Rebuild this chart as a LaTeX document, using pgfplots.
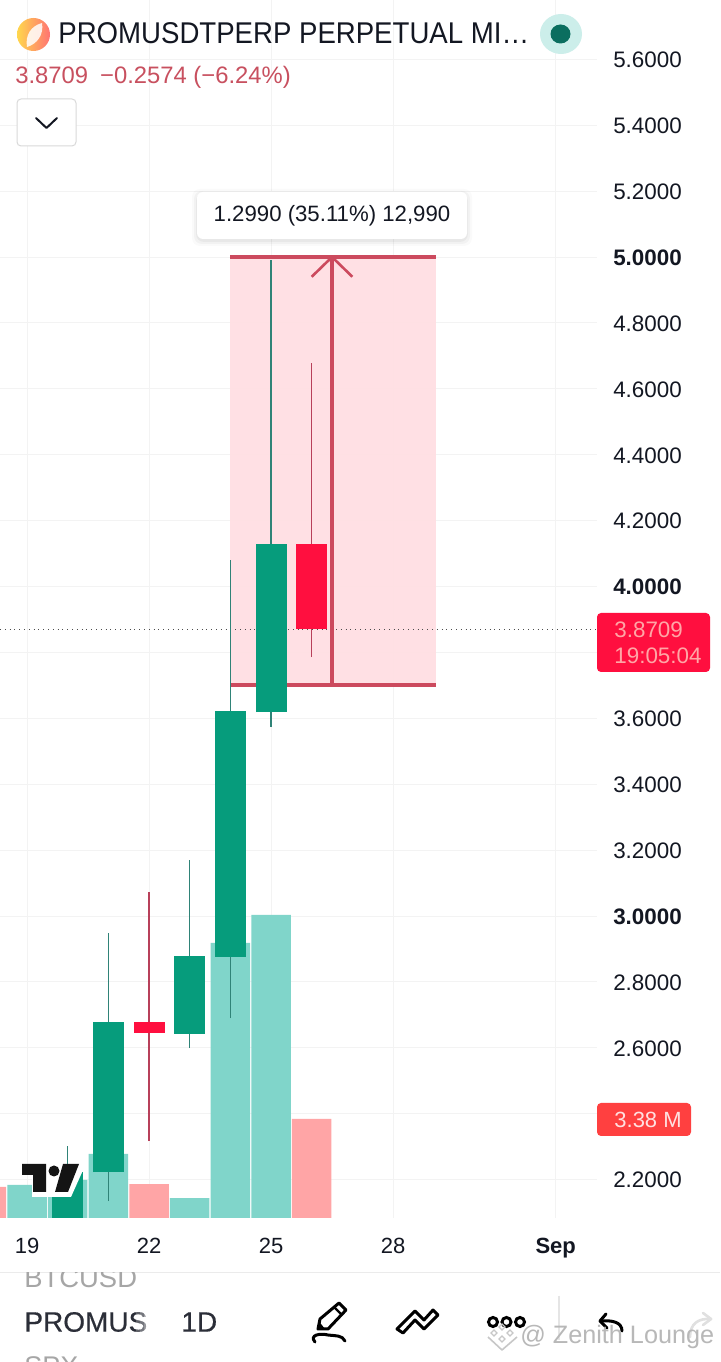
\documentclass[border=0pt]{standalone}
\usepackage{fontspec}
\setmainfont{Liberation Sans}
\usepackage{pgfplots}
\pgfplotsset{compat=1.18}
\definecolor{gridc}{HTML}{F3F3F3}
\definecolor{upc}{HTML}{069C7C}
\definecolor{upw}{HTML}{2F8377}
\definecolor{downc}{HTML}{FF0F3F}
\definecolor{downw}{HTML}{B8405A}
\definecolor{volup}{HTML}{80D5CA}
\definecolor{voldn}{HTML}{FFA5A6}
\definecolor{measure}{HTML}{CC4A5E}
\definecolor{measfill}{HTML}{FFDFE3}
\definecolor{ptext}{HTML}{C8505F}
\definecolor{txt}{HTML}{131722}
\pgfplotsset{base/.style={
  at={(0pt,72pt)},anchor=south west,scale only axis,
  width=298.5pt,height=609pt,
  xmin=18.336,xmax=33.015,
}}
\newfontfamily\medfont[FakeBold=0.5]{Liberation Sans}
\begin{document}
\begin{tikzpicture}
\useasboundingbox (0pt,0pt) rectangle (360pt,681pt);
\fill[white] (0pt,0pt) rectangle (360pt,681pt);
% price axis: grid and ticks
\begin{axis}[base,
  ymin=2.0835,ymax=5.780,
  axis line style={draw=none},
  tick style={draw=none},
  grid=major,grid style={gridc,line width=0.5pt},
  xtick={19,22,25,28,32},
  xticklabels={19,22,25,28,\textbf{Sep}},
  x tick label style={font=\fontsize{11}{13}\selectfont,text=txt,anchor=base,yshift=-18pt},
  xticklabel pos=lower,
  ytick={2.2,2.4,2.6,2.8,3.0,3.2,3.4,3.6,3.8,4.0,4.2,4.4,4.6,4.8,5.0,5.2,5.4,5.6},
  yticklabels={2.2000,,2.6000,2.8000,\textbf{3.0000},3.2000,3.4000,3.6000,,\textbf{4.0000},4.2000,4.4000,4.6000,4.8000,\textbf{5.0000},5.2000,5.4000,5.6000},
  yticklabel pos=right,
  y tick label style={font=\fontsize{11.2}{13}\selectfont,text=txt,anchor=west,xshift=4.6pt,yshift=-0.3pt},
]
\end{axis}
% volume
\begin{axis}[base,hide axis,ymin=0,ymax=41.58]
\addplot[ybar,bar width=19.75pt,bar shift=0pt,fill=volup,draw=none] coordinates {
 (19,1.13) (20,1.30) (21,2.19) (23,0.68) (24,9.39) (25,10.35)};
\addplot[ybar,bar width=19.75pt,bar shift=0pt,fill=voldn,draw=none] coordinates {
 (18,1.06) (22,1.16) (26,3.38)};
\end{axis}
% measure tool + candles
\begin{axis}[base,hide axis,ymin=2.0835,ymax=5.780,unbounded coords=jump]
\addplot[fill=measfill,draw=none,opacity=0.95] coordinates {(24,3.701) (29.05,3.701) (29.05,5.0) (24,5.0)} --cycle;
\addplot[black!70,line width=0.4pt,dotted] coordinates {(18.336,3.8709) (33.015,3.8709)};
\addplot[measure,line width=1.6pt] coordinates {(24,5.0) (29.05,5.0)};
\addplot[measure,line width=1.6pt] coordinates {(24,3.701) (29.05,3.701)};
\addplot[upw,line width=0.55pt] coordinates {
 (20,2.0835) (20,2.302)
 (21,nan)
 (21,2.135) (21,2.948)
 (23,nan)
 (23,2.599) (23,3.170)
 (24,nan)
 (24,2.690) (24,4.080)
 (25,nan)
 (25,3.574) (25,4.99)};
\addplot[downw,line width=0.55pt] coordinates {
 (22,2.317) (22,3.073)
 (26,nan)
 (26,3.786) (26,4.678)};
\addplot[upc,line width=15.5pt,line cap=butt] coordinates {
 (20,2.0835) (20,2.223)
 (21,nan)
 (21,2.223) (21,2.678)
 (23,nan)
 (23,2.642) (23,2.879)
 (24,nan)
 (24,2.876) (24,3.622)
 (25,nan)
 (25,3.619) (25,4.129)};
\addplot[downc,line width=15.5pt,line cap=butt] coordinates {
 (22,2.645) (22,2.678)
 (26,nan)
 (26,3.8709) (26,4.129)};
\addplot[measure,line width=1.6pt] coordinates {(26.5,3.701) (26.5,5.0)};
\addplot[measure,line width=1.3pt] coordinates {(26.0,4.94) (26.5,5.0) (27.0,4.94)};
\end{axis}
% interface furniture in pixel coordinates
\begin{scope}[x=0.5pt,y=-0.5pt,shift={(0pt,681pt)}]
  % header
  \shade[left color=orange!45!yellow!70!white,right color=red!55!white,draw=none] (33.5,34.5) ellipse (16.5 and 16.5);
  \fill[white,opacity=.85] (27,47) .. controls (25,35) and (31,26) .. (42,23) .. controls (44,35) and (37,44) .. (27,47) -- cycle;
  \node[anchor=west,inner sep=0,text=txt,font=\fontsize{15}{17}\selectfont,xscale=.92,transform shape] at (58,33) {PROMUSDTPERP PERPETUAL MI\ldots};
  \fill[volup!40!white] (561,34) ellipse (21 and 20);
  \definecolor{dotc}{HTML}{0B6E5F}
  \fill[dotc] (560.5,34) ellipse (10 and 9.5);
  \node[anchor=west,inner sep=0,text=ptext,font=\fontsize{11.9}{13}\selectfont] at (15,77) {3.8709\hspace{6pt}−0.2574 (−6.24\%)};
  \draw[black!15,fill=white,rounded corners=2pt,line width=0.5pt] (17,99) rectangle (76,146);
  \draw[txt,line width=1pt,line cap=round,line join=round] (36,118) -- (46.5,128) -- (57,118);
  % tooltip
  \foreach \d/\o in {5/.02,3/.03,1/.04}{\fill[black,opacity=\o,rounded corners=4pt] (197-\d,192-\d+2) rectangle (467+\d,239+\d+2);}
  \fill[white,rounded corners=3pt] (197,192) rectangle (467,239);
  \node[inner sep=0,text=txt,font=\fontsize{11.1}{13}\selectfont] at (332,216) {1.2990 (35.11\%) 12,990};
  % price label
  \fill[downc,rounded corners=2pt] (597,613) rectangle (710,672);
  \node[anchor=west,inner sep=0,text=red!35!white,font=\fontsize{11.2}{13}\selectfont] at (614,630) {3.8709};
  \node[anchor=west,inner sep=0,text=red!35!white,font=\fontsize{11.2}{13}\selectfont] at (614,656) {19:05:04};
  % volume label
  \fill[red!75!white,rounded corners=2pt] (597,1103) rectangle (691,1136);
  \node[anchor=west,inner sep=0,text=red!12!white,font=\fontsize{11}{13}\selectfont] at (614,1120) {3.38 M};
  % TV logo
  \fill[white] (32,1175) -- (32,1197) -- (71,1197) -- (84,1168) -- (60,1168) -- cycle;
  \fill[black!92] (22,1164) -- (46,1164) -- (46,1192) -- (33,1192) -- (33,1175) -- (22,1175) -- cycle;
  \fill[black!92] (54,1171) circle (5.5);
  \fill[black!92] (63,1164) -- (79,1164) -- (68,1192) -- (55,1192) -- cycle;
  % bottom bar
  \draw[black!8,line width=0.6pt] (0,1272.5) -- (720,1272.5);
  \begin{scope}
    \clip (0,1273) rectangle (140,1300);
    \node[anchor=west,inner sep=0,text=black!35,font=\fontsize{13.7}{16}\selectfont] at (24,1278) {BTCUSD};
  \end{scope}
  \begin{scope}
    \clip (0,1352) rectangle (140,1362);
    \node[anchor=west,inner sep=0,text=black!35,font=\fontsize{13.5}{16}\selectfont] at (24,1366) {SPX};
  \end{scope}
  \node[anchor=west,inner sep=0,text=txt!90,font=\fontsize{14}{16}\medfont] at (24,1322) {PROMUS};
  \foreach \x/\o in {136/.25,140/.35,144/.5,148/.7}{\fill[white,opacity=\o] (\x,1305) rectangle (\x+4,1340);}
  \node[anchor=west,inner sep=0,text=txt!90,font=\fontsize{14}{16}\medfont] at (181,1322) {1D};
  % pencil
  \draw[black,line width=1.5pt,line join=round] (318,1329) -- (320,1319) -- (339,1303) -- (346,1310) -- (328,1329) -- cycle;
  \draw[black,line width=1.2pt] (334,1307) -- (341,1314);
  \fill[black] (318,1329) -- (319.5,1322) -- (325,1329) -- cycle;
  \draw[black,line width=1.5pt,line cap=round] (315,1342) .. controls (309,1335) and (320,1333) .. (328,1335) .. controls (336,1336) and (342,1335) .. (345,1341);
  % multi-chevron
  \draw[black,line width=1.5pt,line join=round] (397,1329) -- (415,1311) -- (424,1320) -- (433,1310) -- (438,1315) -- (424,1329) -- (415,1320) -- (403,1333) -- cycle;
  % three circles
  \foreach \x in {493,506.5,520}{\draw[black,line width=1.5pt] (\x,1322) circle (4.5);}
  % undo and redo
  \draw[black!10,line width=0.6pt] (559,1296) -- (559,1340);
  \draw[black,line width=1.5pt,line cap=round,line join=round] (606,1314) -- (600,1321) -- (607,1328);
  \draw[black,line width=1.5pt,line cap=round] (600,1321) .. controls (612,1320) and (622,1322) .. (622,1331);
  \draw[black!12,line width=1.3pt,line cap=round,line join=round] (703,1313) -- (711,1319) -- (703,1325);
  \draw[black!12,line width=1.3pt,line cap=round] (711,1319) .. controls (698,1318) and (690,1324) .. (690,1337);
  % watermark
  \draw[black!22,line width=0.8pt,line join=round] (488,1337) -- (502,1350) -- (517,1337);
  \foreach \x/\y in {494,1333,502,1328,510,1333,502,1338}{}
  \foreach \x/\y in {494/1333,502/1327,510/1333,502/1339}{\draw[black!22,line width=0.7pt] (\x-3,\y) -- (\x,\y-3) -- (\x+3,\y) -- (\x,\y+3) -- cycle;}
  \node[anchor=west,inner sep=0,text=black!28,font=\fontsize{12.6}{15}\selectfont] at (520,1337) {@ Zenith Lounge};
\end{scope}
\end{tikzpicture}
\end{document}
